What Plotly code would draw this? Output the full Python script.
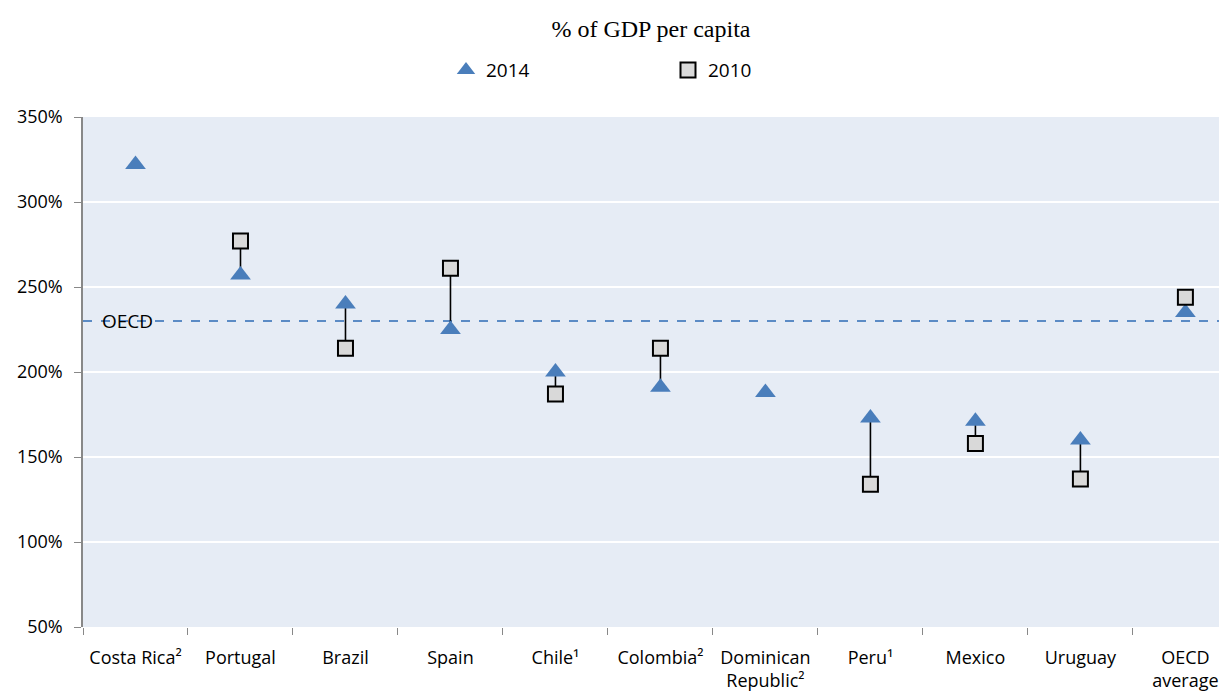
import plotly.graph_objects as go

categories = ["Costa Rica²", "Portugal", "Brazil", "Spain", "Chile¹", "Colombia²",
              "Dominican<br>Republic²", "Peru¹", "Mexico", "Uruguay", "OECD<br>average"]
values_2014 = [322, 257, 240, 225, 200, 191, 188, 173, 171, 160, 235]
values_2010 = [None, 277, 214, 261, 187, 214, None, 134, 158, 137, 244]
oecd_level = 230
y_ticks = [50, 100, 150, 200, 250, 300, 350]

# connecting segments between 2010 and 2014 values
seg_x, seg_y = [], []
for c, a, b in zip(categories, values_2014, values_2010):
    if a is not None and b is not None:
        seg_x += [c, c, None]
        seg_y += [b, a, None]

SANS = "Open Sans, Liberation Sans, sans-serif"

fig = go.Figure()
fig.add_trace(go.Scatter(x=seg_x, y=seg_y, mode="lines",
                         line=dict(color="black", width=1.6),
                         showlegend=False, hoverinfo="skip"))
fig.add_trace(go.Scatter(x=categories, y=values_2014, mode="markers", name="2014",
                         marker=dict(symbol="triangle-up", size=18, color="#4A7EBB",
                                     line=dict(width=0))))
fig.add_trace(go.Scatter(x=categories, y=values_2010, mode="markers", name="2010",
                         marker=dict(symbol="square", size=15, color="#D9D9D9",
                                     line=dict(color="black", width=2))))

fig.add_shape(type="line", xref="paper", x0=0, x1=1, yref="y", y0=oecd_level, y1=oecd_level,
              line=dict(color="#5B8BC5", width=2, dash="dash"), layer="below")
fig.add_annotation(x=categories[0], y=oecd_level, text="OECD", showarrow=False,
                   xshift=-8, font=dict(family=SANS, size=19, color="black"))

fig.update_layout(
    width=1219, height=691,
    margin=dict(l=83, r=0, t=117, b=64),
    paper_bgcolor="white",
    plot_bgcolor="#E6ECF5",
    title=dict(text="% of GDP per capita", x=0.5, xanchor="center", y=0.959, yanchor="middle",
               xref="paper",
               font=dict(family="Liberation Serif, Times New Roman, serif", size=24, color="black")),
    legend=dict(orientation="h", x=(466 - 20 - 83) / 1136, xanchor="left", y=1.092, yanchor="middle",
                entrywidth=177, entrywidthmode="pixels",
                font=dict(family=SANS, size=19, color="black"),
                itemwidth=30, traceorder="normal"),
    showlegend=True,
    font=dict(family=SANS, size=18, color="black"),
)
fig.update_xaxes(type="category", categoryorder="array", categoryarray=categories,
                 range=[-0.5, 10.32], tickson="boundaries", ticks="outside", ticklen=7,
                 tickcolor="#888888", showgrid=False, showline=False, zeroline=False,
                 tickfont=dict(size=18), ticklabelstandoff=18, fixedrange=True)
fig.update_yaxes(range=[50, 350], tickvals=y_ticks, ticktext=[f"{v}%" for v in y_ticks],
                 ticks="outside", ticklen=7, tickcolor="#888888",
                 showline=True, linecolor="#888888", linewidth=1.5,
                 gridcolor="white", gridwidth=2, zeroline=False, tickfont=dict(size=18),
                 ticklabelstandoff=8)

fig.write_html(
    "out.html",
    config={"displayModeBar": False},
    post_script="document.documentElement.style.overflow='hidden';"
                "document.body.style.margin='0';document.body.style.overflow='hidden';",
)
